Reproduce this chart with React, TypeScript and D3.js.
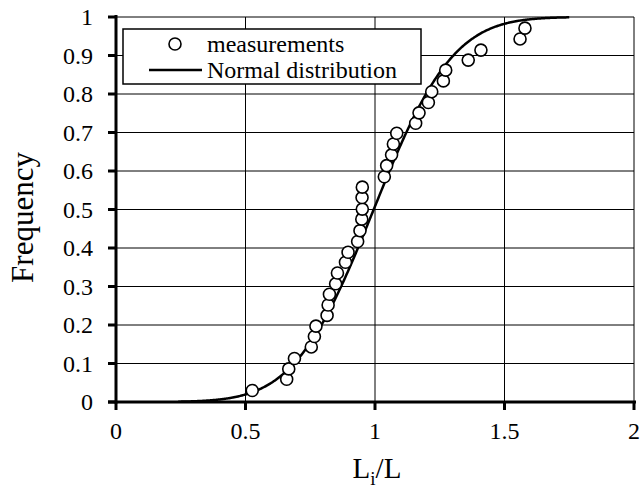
import React from "react";
import * as d3 from "d3";

// Measurements: (L_i/L, cumulative frequency)
const measX = [
  0.526, 0.659, 0.667, 0.689, 0.754, 0.766, 0.772, 0.815, 0.819, 0.824,
  0.848, 0.855, 0.886, 0.896, 0.933, 0.942, 0.949, 0.951, 0.95, 0.951,
  1.036, 1.045, 1.064, 1.071, 1.084, 1.157, 1.17, 1.206, 1.219, 1.264,
  1.273, 1.36, 1.409, 1.56, 1.579,
];
const measY = [
  0.03, 0.059, 0.086, 0.113, 0.143, 0.17, 0.197, 0.225, 0.252, 0.28,
  0.307, 0.335, 0.363, 0.389, 0.417, 0.445, 0.475, 0.501, 0.531, 0.558,
  0.585, 0.614, 0.642, 0.67, 0.698, 0.724, 0.751, 0.778, 0.806, 0.834,
  0.862, 0.888, 0.914, 0.943, 0.971,
];
// Normal distribution parameters
const normalMean = 0.995;
const normalSd = 0.24;
const curveRange = [0.24, 1.75];
const xTicks = [0, 0.5, 1, 1.5, 2];
const xTickLabels = ["0", "0.5", "1", "1.5", "2"];
const yTicks = [0, 0.1, 0.2, 0.3, 0.4, 0.5, 0.6, 0.7, 0.8, 0.9, 1];
const yTickLabels = ["0", "0.1", "0.2", "0.3", "0.4", "0.5", "0.6", "0.7", "0.8", "0.9", "1"];
const legendLabels = ["measurements", "Normal distribution"];

function erf(x: number) {
  const s = x < 0 ? -1 : 1;
  const a = Math.abs(x);
  const t = 1 / (1 + 0.3275911 * a);
  const y =
    1 -
    ((((1.061405429 * t - 1.453152027) * t + 1.421413741) * t - 0.284496736) * t + 0.254829592) *
      t *
      Math.exp(-a * a);
  return s * y;
}

const W = 643;
const H = 494;
const L = 116, R = 634, T = 17, B = 402;
const FONT = "'Liberation Serif', 'Times New Roman', Times, serif";
const FS = 24;

export default function App() {
  const x = d3.scaleLinear().domain([0, 2]).range([L, R]);
  const y = d3.scaleLinear().domain([0, 1]).range([B, T]);

  const curveX = d3.range(curveRange[0], curveRange[1] + 1e-9, 0.005);
  const curvePts: [number, number][] = curveX.map((v) => [
    v,
    0.5 * (1 + erf((v - normalMean) / (normalSd * Math.SQRT2))),
  ]);
  const line = d3
    .line<[number, number]>()
    .x((d) => x(d[0]))
    .y((d) => y(d[1]))
    .curve(d3.curveMonotoneX);

  const pts = measX.map((v, i) => [v, measY[i]] as [number, number]);
  const tStyle = { fontFamily: FONT };

  return (
    <svg
      width={W}
      height={H}
      style={{ position: "absolute", left: 0, top: 0, background: "#fff" }}
    >
      <rect x={0} y={0} width={W} height={H} fill="#fff" />
      {/* gridlines */}
      {yTicks.slice(1).map((t) => (
        <line key={"gy" + t} x1={L} x2={R} y1={y(t)} y2={y(t)} stroke="#000" strokeWidth={1} />
      ))}
      {xTicks.slice(1).map((t) => (
        <line key={"gx" + t} x1={x(t)} x2={x(t)} y1={T} y2={B} stroke="#000" strokeWidth={1} />
      ))}

      {/* legend */}
      <rect x={123} y={29} width={298} height={55} fill="#fff" stroke="#000" strokeWidth={1.5} />
      <circle cx={175} cy={44} r={6} fill="#fff" stroke="#000" strokeWidth={1.6} />
      <text x={207} y={52} fontSize={FS} fill="#000" style={tStyle}>{legendLabels[0]}</text>
      <line x1={149} x2={202} y1={70} y2={70} stroke="#000" strokeWidth={2.5} />
      <text x={207} y={78} fontSize={FS} fill="#000" style={tStyle}>{legendLabels[1]}</text>

      {/* normal curve */}
      <path d={line(curvePts) || ""} fill="none" stroke="#000" strokeWidth={2.5} />

      {/* measurements */}
      {pts.map((p, i) => (
        <circle key={i} cx={x(p[0])} cy={y(p[1])} r={6} fill="#fff" stroke="#000" strokeWidth={1.6} />
      ))}

      {/* axes */}
      <line x1={L} x2={L} y1={T - 2} y2={B + 1.5} stroke="#000" strokeWidth={3} />
      <line x1={L - 8} x2={R + 2} y1={B} y2={B} stroke="#000" strokeWidth={3} />
      {yTicks.map((t) => (
        <line key={"ty" + t} x1={L - 8} x2={L} y1={y(t)} y2={y(t)} stroke="#000" strokeWidth={3} />
      ))}
      {xTicks.map((t) => (
        <line key={"tx" + t} x1={x(t)} x2={x(t)} y1={B} y2={B + 8} stroke="#000" strokeWidth={3} />
      ))}

      {/* tick labels */}
      {yTicks.map((t, i) => (
        <text key={"ly" + t} x={93} y={y(t) + 8} fontSize={FS} textAnchor="end" fill="#000" style={tStyle}>
          {yTickLabels[i]}
        </text>
      ))}
      {xTicks.map((t, i) => (
        <text key={"lx" + t} x={x(t)} y={439} fontSize={FS} textAnchor="middle" fill="#000" style={tStyle}>
          {xTickLabels[i]}
        </text>
      ))}

      {/* axis titles */}
      <text
        transform={`translate(33, ${(T + B) / 2 + 8}) rotate(-90)`}
        fontSize={31}
        textAnchor="middle"
        fill="#000"
        style={tStyle}
      >
        Frequency
      </text>
      <text x={377} y={478} fontSize={29} textAnchor="middle" fill="#000" style={tStyle}>
        <tspan>L</tspan>
        <tspan fontSize={19} dy={7}>i</tspan>
        <tspan dy={-7}>/L</tspan>
      </text>
    </svg>
  );
}
